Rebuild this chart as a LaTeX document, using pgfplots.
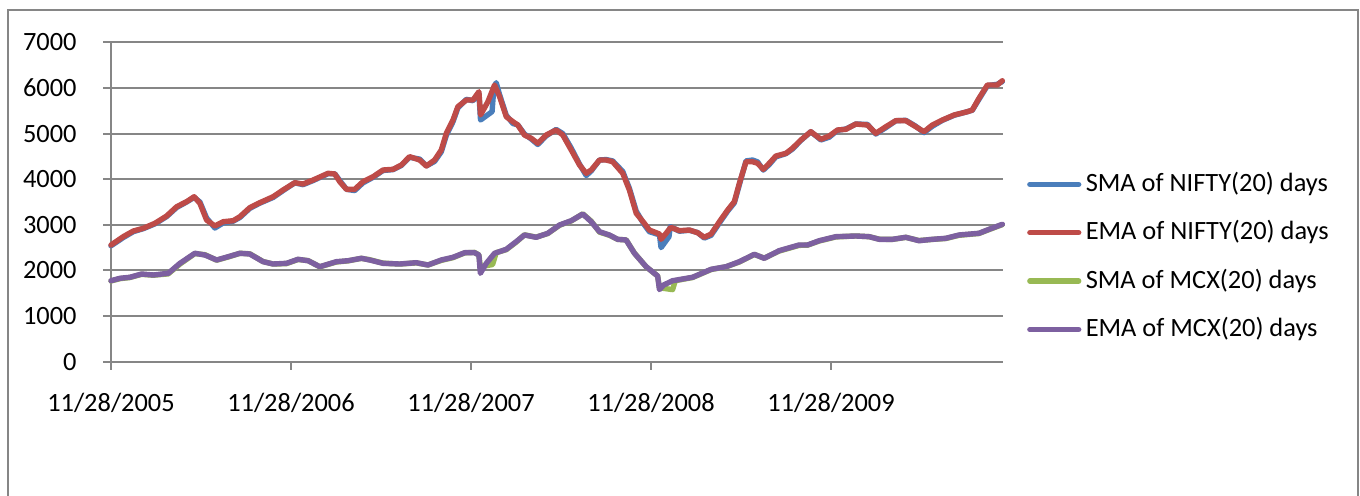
\documentclass[border=0pt]{standalone}
\usepackage{fontspec}
\setmainfont{Carlito}
\usepackage{pgfplots}
\pgfplotsset{compat=1.18}
\definecolor{cblue}{RGB}{74,126,187}
\definecolor{cred}{RGB}{190,75,72}
\definecolor{cgreen}{RGB}{152,185,84}
\definecolor{cpurple}{RGB}{125,96,160}
\definecolor{cgrid}{RGB}{134,134,134}
\begin{document}
\begin{tikzpicture}
\path[use as bounding box] (0,0) rectangle (680pt,248pt);
\draw[cgrid, line width=1pt] (4pt,-2pt) -- (4pt,243pt) -- (679pt,243pt) -- (679pt,-2pt);
\begin{axis}[
  at={(55.5pt,67.15pt)}, anchor=south west,
  scale only axis, width=445.85pt, height=159.7pt,
  xmin=0, xmax=4.954, ymin=0, ymax=7000,
  clip=false,
  axis lines*=left,
  axis line style={draw=cgrid, line width=1pt, -},
  xtick={0,1,2,3,4},
  xticklabels={11/28/2005,11/28/2006,11/28/2007,11/28/2008,11/28/2009},
  ytick={0,1000,...,7000},
  scaled y ticks=false,
  /pgf/number format/1000 sep={},
  /pgf/number format/assume math mode=true,
  ymajorgrids,
  major grid style={cgrid, line width=1pt},
  tick align=outside,
  major tick length=4pt,
  tick style={cgrid, line width=1pt},
  tick label style={font=\fontsize{13.2}{15}\selectfont, inner sep=0pt},
  xticklabel style={anchor=base, yshift=-21pt},
  yticklabel style={anchor=east, xshift=-13pt},
  legend cell align=left,
  legend style={draw=none, fill=none, at={(1.027,0.328)}, anchor=west,
    font=\fontsize{13.2}{15}\selectfont, inner sep=0pt,
    nodes={inner sep=0pt, text height=9.5pt, text depth=2.5pt},
    row sep=12.2pt, column sep=2.2pt},
  legend image code/.code={\draw[#1, line cap=round] (1.3pt,0pt) -- (25.7pt,0pt);},
  every axis plot/.append style={line width=2.7pt, line join=round, line cap=round},
]
% SMA of NIFTY
\addplot[cblue] coordinates {
(0.000,2540) (0.068,2720) (0.124,2850) (0.179,2915) (0.244,3020) (0.309,3180) (0.365,3380) (0.420,3500) (0.462,3600) (0.494,3500) (0.531,3150) (0.577,2930) (0.623,3040) (0.679,3080) (0.716,3160) (0.771,3360) (0.827,3475) (0.901,3600) (0.956,3750) (1.021,3920) (1.067,3880) (1.123,3970) (1.206,4120) (1.243,4120) (1.271,3970) (1.308,3780) (1.354,3750) (1.400,3920) (1.456,4040) (1.511,4190) (1.567,4210) (1.613,4300) (1.659,4480) (1.715,4440) (1.752,4290) (1.798,4390) (1.835,4600) (1.863,4960) (1.900,5260) (1.927,5560) (1.974,5750) (2.011,5720) (2.044,5880) (2.053,5297) (2.117,5480) (2.127,6000) (2.140,6115) (2.159,5850) (2.196,5400) (2.233,5220) (2.260,5190) (2.297,4990) (2.335,4880) (2.371,4760) (2.418,4950) (2.473,5090) (2.510,5000) (2.557,4680) (2.603,4330) (2.640,4080) (2.668,4180) (2.714,4420) (2.751,4430) (2.787,4400) (2.843,4170) (2.880,3800) (2.918,3300) (2.963,3000) (2.991,2850) (3.047,2780) (3.056,2500) (3.100,2740) (3.107,2960) (3.158,2860) (3.213,2880) (3.259,2830) (3.296,2710) (3.334,2770) (3.380,3040) (3.426,3300) (3.463,3480) (3.491,3880) (3.528,4400) (3.564,4420) (3.592,4380) (3.624,4200) (3.657,4320) (3.694,4490) (3.750,4560) (3.786,4660) (3.833,4850) (3.888,5040) (3.944,4860) (3.990,4920) (4.036,5070) (4.083,5100) (4.138,5210) (4.203,5200) (4.249,4990) (4.305,5130) (4.360,5280) (4.416,5290) (4.471,5160) (4.517,5020) (4.563,5160) (4.619,5290) (4.684,5400) (4.758,5480) (4.785,5510) (4.822,5750) (4.869,6050) (4.924,6080) (4.952,6140)
};
\addlegendentry{SMA of NIFTY(20) days}
% EMA of NIFTY
\addplot[cred] coordinates {
(0.000,2557) (0.068,2740) (0.124,2864) (0.179,2923) (0.244,3033) (0.309,3193) (0.365,3397) (0.420,3507) (0.462,3616) (0.494,3471) (0.531,3105) (0.577,2974) (0.623,3068) (0.679,3090) (0.716,3178) (0.771,3375) (0.827,3485) (0.901,3616) (0.956,3763) (1.021,3923) (1.067,3894) (1.123,3982) (1.206,4129) (1.243,4114) (1.271,3945) (1.308,3778) (1.354,3778) (1.400,3945) (1.456,4054) (1.511,4201) (1.567,4216) (1.613,4311) (1.659,4493) (1.715,4420) (1.752,4289) (1.798,4420) (1.835,4639) (1.863,5005) (1.900,5297) (1.927,5589) (1.974,5735) (2.011,5735) (2.044,5917) (2.053,5407) (2.094,5698) (2.131,6064) (2.159,5808) (2.196,5369) (2.233,5260) (2.260,5187) (2.297,4968) (2.335,4896) (2.371,4786) (2.418,4968) (2.473,5078) (2.510,4968) (2.557,4639) (2.603,4311) (2.640,4129) (2.668,4201) (2.714,4420) (2.751,4420) (2.787,4383) (2.843,4129) (2.880,3763) (2.918,3252) (2.963,3033) (2.991,2886) (3.047,2798) (3.056,2682) (3.084,2814) (3.110,2945) (3.158,2871) (3.213,2886) (3.259,2827) (3.296,2726) (3.334,2798) (3.380,3068) (3.426,3324) (3.463,3507) (3.491,3910) (3.528,4383) (3.564,4383) (3.592,4348) (3.624,4216) (3.657,4348) (3.694,4508) (3.750,4567) (3.786,4677) (3.833,4859) (3.888,5041) (3.944,4874) (3.990,4946) (4.036,5078) (4.083,5093) (4.138,5209) (4.203,5187) (4.249,5005) (4.305,5150) (4.360,5282) (4.416,5282) (4.471,5150) (4.517,5041) (4.563,5187) (4.619,5297) (4.684,5407) (4.758,5479) (4.785,5516) (4.822,5772) (4.869,6064) (4.924,6064) (4.952,6158)
};
\addlegendentry{EMA of NIFTY(20) days}
% SMA of MCX
\addplot[cgreen] coordinates {
(0.000,1770) (0.050,1820) (0.105,1845) (0.170,1915) (0.235,1895) (0.318,1925) (0.383,2140) (0.466,2370) (0.522,2345) (0.587,2225) (0.651,2295) (0.716,2375) (0.771,2365) (0.845,2195) (0.901,2140) (0.975,2150) (1.039,2240) (1.095,2215) (1.160,2080) (1.252,2185) (1.317,2210) (1.391,2265) (1.437,2235) (1.511,2160) (1.604,2140) (1.696,2165) (1.761,2120) (1.835,2220) (1.900,2280) (1.965,2385) (2.020,2395) (2.044,2338) (2.052,2080) (2.120,2130) (2.140,2390) (2.196,2455) (2.251,2620) (2.297,2780) (2.362,2730) (2.427,2810) (2.492,2990) (2.557,3085) (2.621,3240) (2.668,3080) (2.714,2840) (2.769,2770) (2.815,2680) (2.862,2670) (2.908,2380) (2.973,2080) (3.037,1878) (3.047,1620) (3.120,1580) (3.135,1775) (3.231,1845) (3.334,2020) (3.417,2080) (3.491,2185) (3.574,2350) (3.629,2270) (3.712,2425) (3.823,2550) (3.870,2555) (3.935,2645) (4.027,2735) (4.138,2755) (4.212,2740) (4.268,2685) (4.341,2680) (4.416,2725) (4.489,2655) (4.563,2680) (4.638,2700) (4.711,2770) (4.822,2810) (4.878,2895) (4.952,3005)
};
\addlegendentry{SMA of MCX(20) days}
% EMA of MCX
\addplot[cpurple] coordinates {
(0.000,1775) (0.050,1828) (0.105,1850) (0.170,1922) (0.235,1900) (0.318,1937) (0.383,2156) (0.466,2376) (0.522,2338) (0.587,2229) (0.651,2301) (0.716,2376) (0.771,2360) (0.845,2192) (0.901,2141) (0.975,2156) (1.039,2244) (1.095,2213) (1.160,2082) (1.252,2192) (1.317,2213) (1.391,2266) (1.437,2229) (1.511,2156) (1.604,2141) (1.696,2170) (1.761,2119) (1.835,2229) (1.900,2288) (1.965,2389) (2.020,2389) (2.044,2338) (2.052,1937) (2.085,2156) (2.131,2376) (2.196,2463) (2.251,2630) (2.297,2777) (2.362,2726) (2.427,2814) (2.492,2996) (2.557,3090) (2.621,3237) (2.668,3068) (2.714,2849) (2.769,2777) (2.815,2682) (2.862,2667) (2.908,2376) (2.973,2082) (3.037,1878) (3.047,1580) (3.070,1680) (3.120,1775) (3.231,1850) (3.334,2025) (3.417,2082) (3.491,2192) (3.574,2354) (3.629,2266) (3.712,2433) (3.823,2558) (3.870,2558) (3.935,2652) (4.027,2740) (4.138,2755) (4.212,2740) (4.268,2682) (4.341,2682) (4.416,2726) (4.489,2652) (4.563,2682) (4.638,2704) (4.711,2777) (4.822,2814) (4.878,2901) (4.952,3011)
};
\addlegendentry{EMA of MCX(20) days}
\end{axis}
\end{tikzpicture}
\end{document}
